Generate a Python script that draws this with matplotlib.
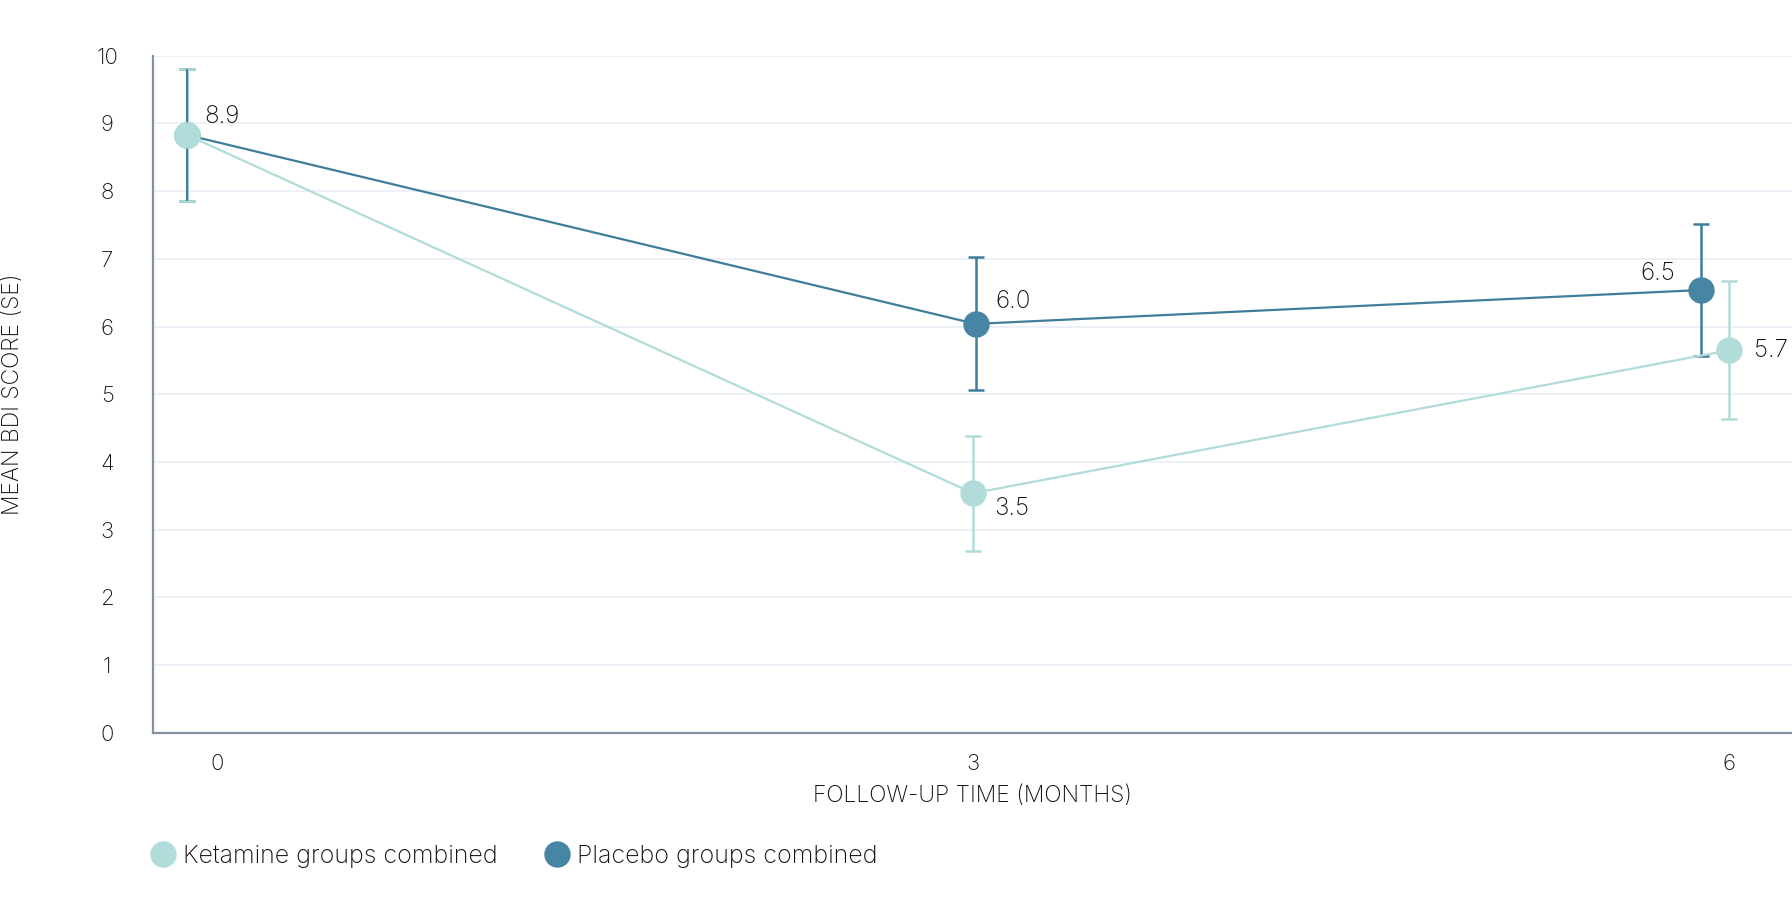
import matplotlib
matplotlib.use("Agg")
import matplotlib.pyplot as plt
from matplotlib.lines import Line2D

plt.rcParams['font.family'] = ['Inter', 'DejaVu Sans']
plt.rcParams['font.weight'] = 'light'
plt.rcParams['axes.labelweight'] = 'light'

# data
ket_x = [-0.12, 3.0, 6.0]
ket_y = [8.83, 3.54, 5.65]
ket_err = [0.98, 0.85, 1.02]
ket_labels = ['8.9', '3.5', '5.7']

plc_x = [-0.12, 3.01, 5.89]
plc_y = [8.83, 6.04, 6.54]
plc_err = [0.98, 0.98, 0.98]
plc_labels = ['', '6.0', '6.5']

x_ticks = [0, 3, 6]
y_ticks = list(range(0, 11))

ket_color = '#b1dcd9'
plc_color = '#4785a4'
plc_line = '#3f7d9c'
text_color = '#111111'

fig = plt.figure(figsize=(17.92, 9.17), dpi=100)
ax = fig.add_axes([0.0854, 0.2007, 0.9146, 0.7386])

ax.set_xlim(-0.254, 6.25)
ax.set_ylim(0, 10)
ax.set_yticks(y_ticks)
ax.set_xticks(x_ticks)
ax.grid(axis='y', color='#e8eff6', lw=1.2)
ax.set_axisbelow(True)
for s in ['top', 'right']:
    ax.spines[s].set_visible(False)
for s in ['left', 'bottom']:
    ax.spines[s].set_color('#84919e')
    ax.spines[s].set_linewidth(1.6)
ax.tick_params(length=0, labelsize=16, labelcolor=text_color)
ax.tick_params(axis='y', pad=33)
ax.tick_params(axis='x', pad=15)
for t in ax.get_yticklabels():
    t.set_ha('center')

# placebo first (drawn below), ketamine on top
ax.errorbar(plc_x, plc_y, yerr=plc_err, color=plc_line, lw=1.6, elinewidth=1.8,
            capsize=6, capthick=1.8, marker='o', ms=18, mfc=plc_color, mec=plc_color, zorder=3)
ax.errorbar(ket_x, ket_y, yerr=ket_err, color=ket_color, lw=1.6, elinewidth=1.8,
            capsize=6, capthick=1.8, marker='o', ms=18, mfc=ket_color, mec=ket_color, zorder=4)
# placebo bar at 0 shows over the light one
ax.errorbar(plc_x[:1], plc_y[:1], yerr=plc_err[:1], fmt='none', ecolor=plc_line,
            elinewidth=1.4, capsize=0, zorder=4.5)
ax.plot(ket_x[:1], ket_y[:1], 'o', ms=18, color=ket_color, zorder=5)

# value labels
fs = 17.5
lab = dict(textcoords='offset points', fontsize=fs, color=text_color, va='center',
           fontweight='light')
ax.annotate(ket_labels[0], (ket_x[0], ket_y[0]), xytext=(13, 13), **lab)
ax.annotate(ket_labels[1], (ket_x[1], ket_y[1]), xytext=(15, -11), **lab)
ax.annotate(ket_labels[2], (ket_x[2], ket_y[2]), xytext=(18, 0), **lab)
ax.annotate(plc_labels[1], (plc_x[1], plc_y[1]), xytext=(14, 16), **lab)
ax.annotate(plc_labels[2], (plc_x[2], plc_y[2]), xytext=(-19, 12), ha='right', **lab)

ax.set_xlabel('FOLLOW-UP TIME (MONTHS)', fontsize=16.5, color=text_color, labelpad=8,
              fontweight='light')
fig.text(0.0072, 0.57, 'MEAN BDI SCORE (SE)', rotation=90, fontsize=16.5,
         color=text_color, ha='center', va='center', fontweight='light')

handles = [Line2D([], [], ls='none', marker='o', ms=18, color=ket_color),
           Line2D([], [], ls='none', marker='o', ms=18, color=plc_color)]
fig.legend(handles, ['Ketamine groups combined', 'Placebo groups combined'],
           loc='center left', bbox_to_anchor=(0.0715, 0.066), ncol=2, frameon=False,
           fontsize=18, handlelength=1.0, handletextpad=0.3, columnspacing=1.85,
           labelcolor=text_color)

fig.savefig('out.png', dpi=100)
